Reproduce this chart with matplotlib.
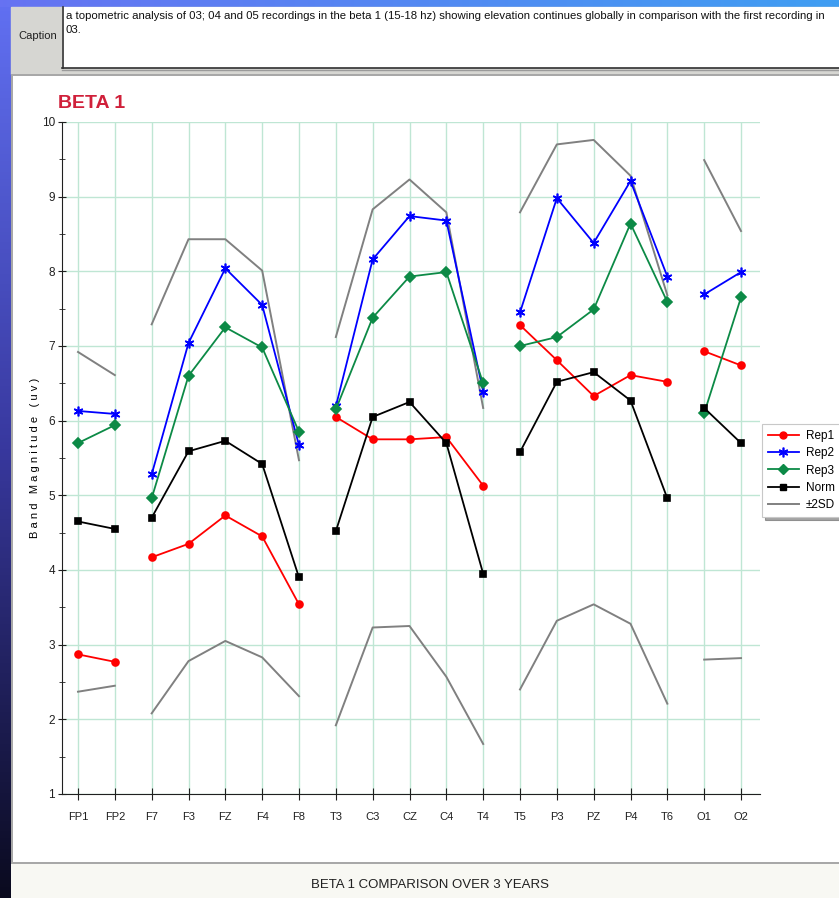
import numpy as np
import matplotlib
matplotlib.use("Agg")
import matplotlib.pyplot as plt
from matplotlib.patches import Rectangle
from matplotlib.lines import Line2D

# ---- data -------------------------------------------------------------
sites = ["FP1", "FP2", "F7", "F3", "FZ", "F4", "F8", "T3", "C3", "CZ",
         "C4", "T4", "T5", "P3", "PZ", "P4", "T6", "O1", "O2"]

rep1 = [2.87, 2.77, 4.17, 4.35, 4.73, 4.45, 3.54, 6.05, 5.75, 5.75,
        5.78, 5.13, 7.28, 6.81, 6.33, 6.61, 6.52, 6.93, 6.74]
rep2 = [6.13, 6.09, 5.28, 7.04, 8.04, 7.55, 5.67, 6.19, 8.16, 8.74,
        8.68, 6.39, 7.45, 8.98, 8.38, 9.21, 7.93, 7.69, 7.99]
rep3 = [5.70, 5.94, 4.96, 6.60, 7.25, 6.98, 5.85, 6.15, 7.38, 7.93,
        7.99, 6.50, 7.00, 7.12, 7.49, 8.64, 7.59, 6.10, 7.65]
norm = [4.65, 4.55, 4.70, 5.59, 5.73, 5.42, 3.90, 4.52, 6.05, 6.25,
        5.70, 3.95, 5.58, 6.52, 6.65, 6.27, 4.96, 6.17, 5.70]
sd_upper = [6.92, 6.61, 7.29, 8.43, 8.43, 8.01, 5.47, 7.12, 8.83, 9.23,
            8.79, 6.17, 8.79, 9.70, 9.76, 9.28, 7.68, 9.49, 8.54]
sd_lower = [2.37, 2.45, 2.08, 2.78, 3.05, 2.83, 2.31, 1.92, 3.23, 3.25,
            2.57, 1.67, 2.40, 3.32, 3.54, 3.28, 2.21, 2.80, 2.82]

# electrode groups: frontal-pole, frontal, central/temporal, parietal, occipital
groups = [(0, 2), (2, 7), (7, 12), (12, 17), (17, 19)]

caption_lines = ["a topometric analysis of 03; 04 and 05 recordings in the beta 1 "
                 "(15-18 hz) showing elevation continues globally in comparison "
                 "with the first recording in",
                 "03."]

# ---- figure -----------------------------------------------------------
W, H = 839, 898
fig = plt.figure(figsize=(W / 100, H / 100), dpi=100)
narrow = ["Liberation Sans Narrow", "Liberation Sans", "DejaVu Sans"]
sans = ["Liberation Sans", "DejaVu Sans"]

# window chrome drawn in pixel coordinates
bg = fig.add_axes([0, 0, 1, 1], zorder=-10)
bg.set_xlim(0, W)
bg.set_ylim(H, 0)
bg.axis("off")

# left desktop strip (vertical gradient blue -> near black)
top_c = np.array([0.38, 0.44, 0.95])
mid_c = np.array([0.22, 0.22, 0.62])
bot_c = np.array([0.04, 0.04, 0.12])
t = np.linspace(0, 1, 256)[:, None]
grad = np.where(t < 0.5, top_c + (mid_c - top_c) * (t / 0.5),
                mid_c + (bot_c - mid_c) * ((t - 0.5) / 0.5))
bg.imshow(grad[:, None, :], extent=[0, 11, H, 0], aspect="auto", zorder=0)

# top title-bar strip (horizontal gradient)
left_c = np.array([0.40, 0.45, 0.95])
right_c = np.array([0.25, 0.62, 0.95])
s = np.linspace(0, 1, 256)[None, :]
hgrad = left_c[None, None, :] + (right_c - left_c)[None, None, :] * s[..., None]
bg.imshow(hgrad, extent=[0, W, 7, 0], aspect="auto", zorder=0)

# caption panel
bg.add_patch(Rectangle((11, 7), W - 11, 67, color="#d6d6d2", zorder=1))
bg.add_patch(Rectangle((62, 7), W - 62, 61, facecolor="white",
                       edgecolor="none", zorder=2))
bg.plot([62.5, 62.5], [7, 68], color="#303030", lw=1.2, zorder=3)
bg.plot([62, W], [68, 68], color="#303030", lw=1.2, zorder=3)
bg.plot([62, W], [70, 70], color="#9a9a9a", lw=1.0, zorder=3)
bg.text(18, 36, "Caption", fontsize=8, family=sans, va="center",
        ha="left", color="#202020", zorder=4)
for i, line in enumerate(caption_lines):
    bg.text(66, 16 + 14 * i, line, fontsize=8.2, family=narrow,
            va="center", ha="left", color="#101010", zorder=4)

# chart panel
bg.add_patch(Rectangle((11, 74), W - 11, 790, facecolor="#a8a8a8",
                       edgecolor="none", zorder=1))
bg.add_patch(Rectangle((13, 76), W - 13, 786, facecolor="white",
                       edgecolor="none", zorder=2))
# bottom strip
bg.add_patch(Rectangle((11, 864), W - 11, H - 864, facecolor="#f8f8f3",
                       edgecolor="none", zorder=2))
bg.text(430, 885, "BETA 1 COMPARISON OVER 3 YEARS", fontsize=9.5,
        family=sans, ha="center", va="center", color="#202020", zorder=4)

# title
bg.text(58, 104, "BETA 1", fontsize=14, fontweight="bold", family=sans,
        color="#d0203a", ha="left", va="center", zorder=4)

# ---- plot axes --------------------------------------------------------
ax_l, ax_r, ax_t, ax_b = 62, 760, 122, 794
ax = fig.add_axes([ax_l / W, 1 - ax_b / H, (ax_r - ax_l) / W, (ax_b - ax_t) / H])
ax.set_facecolor("white")
x = np.arange(len(sites))
spacing = (741 - 78) / 18
ax.set_xlim((ax_l - 78) / spacing, (ax_r - 78) / spacing)
ax.set_ylim(1, 10)

grid_c = "#bfe6d4"
for xi in x:
    ax.axvline(xi, color=grid_c, lw=1.0, zorder=0)
for yi in range(1, 11):
    ax.axhline(yi, color=grid_c, lw=1.0, zorder=0)

series = [
    (rep1, "Rep1", "#ff0000", "o", 5.0),
    (rep2, "Rep2", "#0000ff", (6, 2, 0), 7.0),
    (rep3, "Rep3", "#0c8a46", "D", 5.0),
    (norm, "Norm", "#000000", "s", 5.0),
]
for vals, name, col, mk, ms in series:
    v = np.asarray(vals)
    for a, b in groups:
        ax.plot(x[a:b], v[a:b], color=col, lw=1.3, marker=mk, ms=ms,
                mec=col, mfc=col, mew=1.2, zorder=3)

for vals in (sd_upper, sd_lower):
    v = np.asarray(vals)
    for a, b in groups:
        ax.plot(x[a:b], v[a:b], color="#808080", lw=1.4, zorder=2)

ax.spines["top"].set_visible(False)
ax.spines["right"].set_visible(False)
ax.spines["left"].set_color("#202020")
ax.spines["bottom"].set_color("#202020")

ax.set_xticks(x)
ax.set_xticklabels(sites, family=narrow, fontsize=8)
ax.tick_params(axis="x", direction="inout", length=8, pad=9, colors="#202020")
ax.set_yticks(range(1, 11))
ax.set_yticks(np.arange(1.5, 10, 1.0), minor=True)
ax.set_yticklabels([str(i) for i in range(1, 11)], family=narrow, fontsize=8.5)
ax.tick_params(axis="y", which="major", direction="inout", length=6, pad=2,
               colors="#202020")
ax.tick_params(axis="y", which="minor", direction="inout", length=5,
               colors="#202020")
ax.set_ylabel("B a n d   M a g n i t u d e   ( u v )", family=narrow,
              fontsize=8, labelpad=1)

# ---- legend -----------------------------------------------------------
handles = [
    Line2D([], [], color="#ff0000", marker="o", ms=5, lw=1.3),
    Line2D([], [], color="#0000ff", marker=(6, 2, 0), ms=7, mew=1.2, lw=1.3),
    Line2D([], [], color="#0c8a46", marker="D", ms=5, lw=1.3),
    Line2D([], [], color="#000000", marker="s", ms=5, lw=1.3),
    Line2D([], [], color="#808080", lw=1.4),
]
labels = ["Rep1", "Rep2", "Rep3", "Norm", "±2SD"]
leg = fig.legend(handles, labels, loc="upper left",
                 bbox_to_anchor=(762 / W, 1 - 424 / H),
                 prop={"family": narrow, "size": 8.5}, frameon=True,
                 shadow=True, fancybox=False, handlelength=2.6,
                 labelspacing=0.45, borderpad=0.5, handletextpad=0.6,
                 borderaxespad=0)
leg.get_frame().set_edgecolor("#c8c8c8")
leg.get_frame().set_linewidth(0.8)

fig.savefig("out.png", dpi=100)
